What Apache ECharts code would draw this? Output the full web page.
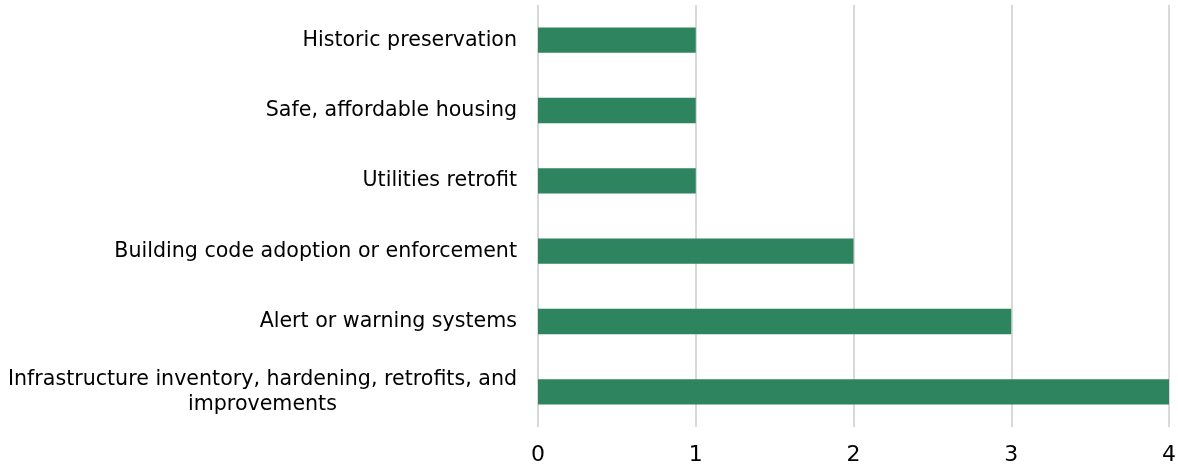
<!DOCTYPE html>
<html>
<head>
<meta charset="utf-8">
<script src="https://cdn.jsdelivr.net/npm/echarts@6/dist/echarts.min.js"></script>
<style>
  html, body { margin: 0; padding: 0; background: #fff; }
  #chart { width: 1178px; height: 469px; }
</style>
</head>
<body>
<div id="chart"></div>
<script>
// top to bottom
var categories = [
  'Historic preservation',
  'Safe, affordable housing',
  'Utilities retrofit',
  'Building code adoption or enforcement',
  'Alert or warning systems',
  'Infrastructure inventory, hardening, retrofits, and\nimprovements'
];
var counts = [1, 1, 1, 2, 3, 4];
var xTicks = [0, 1, 2, 3, 4];

var chart = echarts.init(document.getElementById('chart'));

var option = {
  animation: false,
  textStyle: { fontFamily: 'DejaVu Sans, sans-serif' },
  grid: {
    left: 538,
    right: 9,
    top: 5,
    bottom: 42,
    outerBoundsMode: 'none'
  },
  xAxis: {
    type: 'value',
    min: xTicks[0],
    max: xTicks[xTicks.length - 1],
    interval: 1,
    axisLine: { show: false },
    axisTick: { show: false },
    axisLabel: {
      fontSize: 22,
      fontFamily: 'DejaVu Sans',
      color: '#000',
      margin: 17
    },
    splitLine: {
      lineStyle: { color: '#d9d9d9', width: 2 }
    }
  },
  yAxis: {
    type: 'category',
    inverse: true,
    data: categories,
    axisLine: { show: false },
    axisTick: { show: false },
    axisLabel: {
      fontSize: 20.6,
      fontFamily: 'DejaVu Sans',
      color: '#000',
      margin: 21,
      lineHeight: 25,
      formatter: function (v) {
        return v.split('\n').map(function (s) { return '{c|' + s + '}'; }).join('\n');
      },
      rich: {
        c: { fontSize: 20.6, fontFamily: 'DejaVu Sans', color: '#000', align: 'center', lineHeight: 25 }
      }
    }
  },
  series: [
    {
      type: 'bar',
      data: counts,
      barCategoryGap: '64%',
      itemStyle: { color: '#2e845e' }
    }
  ]
};

chart.setOption(option);
</script>
</body>
</html>
